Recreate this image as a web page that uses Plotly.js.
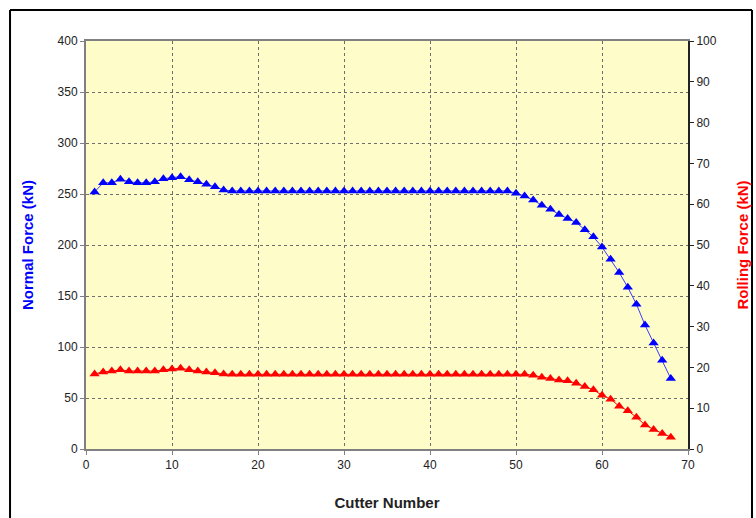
<!DOCTYPE html>
<html>
<head>
<meta charset="utf-8">
<script src="https://cdn.plot.ly/plotly-3.0.1.min.js"></script>
<style>html,body{margin:0;padding:0;background:#fff;}#chart{width:756px;height:518px;}</style>
</head>
<body>
<div id="chart"></div>
<script>
const cutter = [1,2,3,4,5,6,7,8,9,10,11,12,13,14,15,16,17,18,19,20,21,22,23,24,25,26,27,28,29,30,31,32,33,34,35,36,37,38,39,40,41,42,43,44,45,46,47,48,49,50,51,52,53,54,55,56,57,58,59,60,61,62,63,64,65,66,67,68];
const normalForce = [252,261,261,264.5,262,261,261,262,265,266,267,264,262,259.5,257,254,
  253,253,253,253,253,253,253,253,253,253,253,253,253,253,253,253,253,253,253,253,253,253,253,253,253,253,253,253,253,253,253,253,253,
  250.7,248,244,239,235,230,226,222,215,208,198,186,173,158.5,142,121.5,104,87,69];
const rollingForce = [18.4,18.9,19.1,19.4,19.1,19.1,19.1,19.1,19.4,19.6,19.8,19.4,19.1,18.9,18.7,18.4,
  18.3,18.3,18.3,18.3,18.3,18.3,18.3,18.3,18.3,18.3,18.3,18.3,18.3,18.3,18.3,18.3,18.3,18.3,18.3,18.3,18.3,18.3,18.3,18.3,18.3,18.3,18.3,18.3,18.3,18.3,18.3,18.3,18.3,
  18.3,18.3,18.1,17.6,17.3,16.9,16.7,16.1,15.3,14.5,13.2,12.2,10.5,9.4,7.8,5.9,4.8,3.8,2.9];

const font = 'Liberation Sans, Arial, sans-serif';
const traces = [
  {x: cutter, y: normalForce, type: 'scatter', mode: 'lines+markers', name: 'Normal Force',
   line: {color: '#3b3bff', width: 1}, marker: {symbol: 'triangle-up', size: 9, color: '#0000ff'}, yaxis: 'y'},
  {x: cutter, y: rollingForce, type: 'scatter', mode: 'lines+markers', name: 'Rolling Force',
   line: {color: '#ff0000', width: 1}, marker: {symbol: 'triangle-up', size: 9, color: '#ff0000'}, yaxis: 'y2'}
];
const layout = {
  width: 756, height: 518,
  margin: {l: 86, r: 68, t: 41, b: 69},
  paper_bgcolor: '#ffffff', plot_bgcolor: '#fefcc8',
  showlegend: false,
  font: {family: font, size: 12, color: '#222'},
  xaxis: {range: [0, 70], dtick: 10, tick0: 0, showgrid: true, gridcolor: '#6e6e6e', griddash: '3px,3px', gridwidth: 1,
    zeroline: false, showline: true, linecolor: '#808080', linewidth: 2, mirror: true,
    ticks: 'outside', ticklen: 4, tickcolor: '#808080', tickfont: {size: 12, color: '#222'},
    title: {text: '<b>Cutter Number</b>', font: {size: 15, color: '#222'}, standoff: 26}},
  yaxis: {range: [0, 400], dtick: 50, tick0: 0, showgrid: true, gridcolor: '#6e6e6e', griddash: '3px,3px', gridwidth: 1,
    zeroline: false, showline: true, linecolor: '#808080', linewidth: 2,
    ticks: 'outside', ticklen: 4, tickcolor: '#808080', tickfont: {size: 12, color: '#222'},
    title: {text: '<b>Normal Force (kN)</b>', font: {size: 15, color: '#0000ff'}, standoff: 20}},
  yaxis2: {range: [0, 100], dtick: 10, tick0: 0, overlaying: 'y', side: 'right', showgrid: false,
    zeroline: false, showline: true, linecolor: '#222', linewidth: 2,
    ticks: 'outside', ticklen: 4, tickcolor: '#222', tickfont: {size: 12, color: '#222'},
    title: {text: '<b>Rolling Force (kN)</b>', font: {size: 15, color: '#ff0000'}, standoff: 22}},
  shapes: [
    {type: 'line', xref: 'paper', yref: 'paper', x0: -0.1262, x1: -0.1262, y0: 1.076, y1: -0.3, line: {color: '#000', width: 2}},
    {type: 'line', xref: 'paper', yref: 'paper', x0: -0.1262, x1: 1.1063, y0: 1.076, y1: 1.076, line: {color: '#000', width: 2}},
    {type: 'line', xref: 'paper', yref: 'paper', x0: 1.1063, x1: 1.1063, y0: 1.076, y1: -0.3, line: {color: '#000', width: 2}}
  ]
};
Plotly.newPlot('chart', traces, layout, {displayModeBar: false, staticPlot: true});
</script>
</body>
</html>
